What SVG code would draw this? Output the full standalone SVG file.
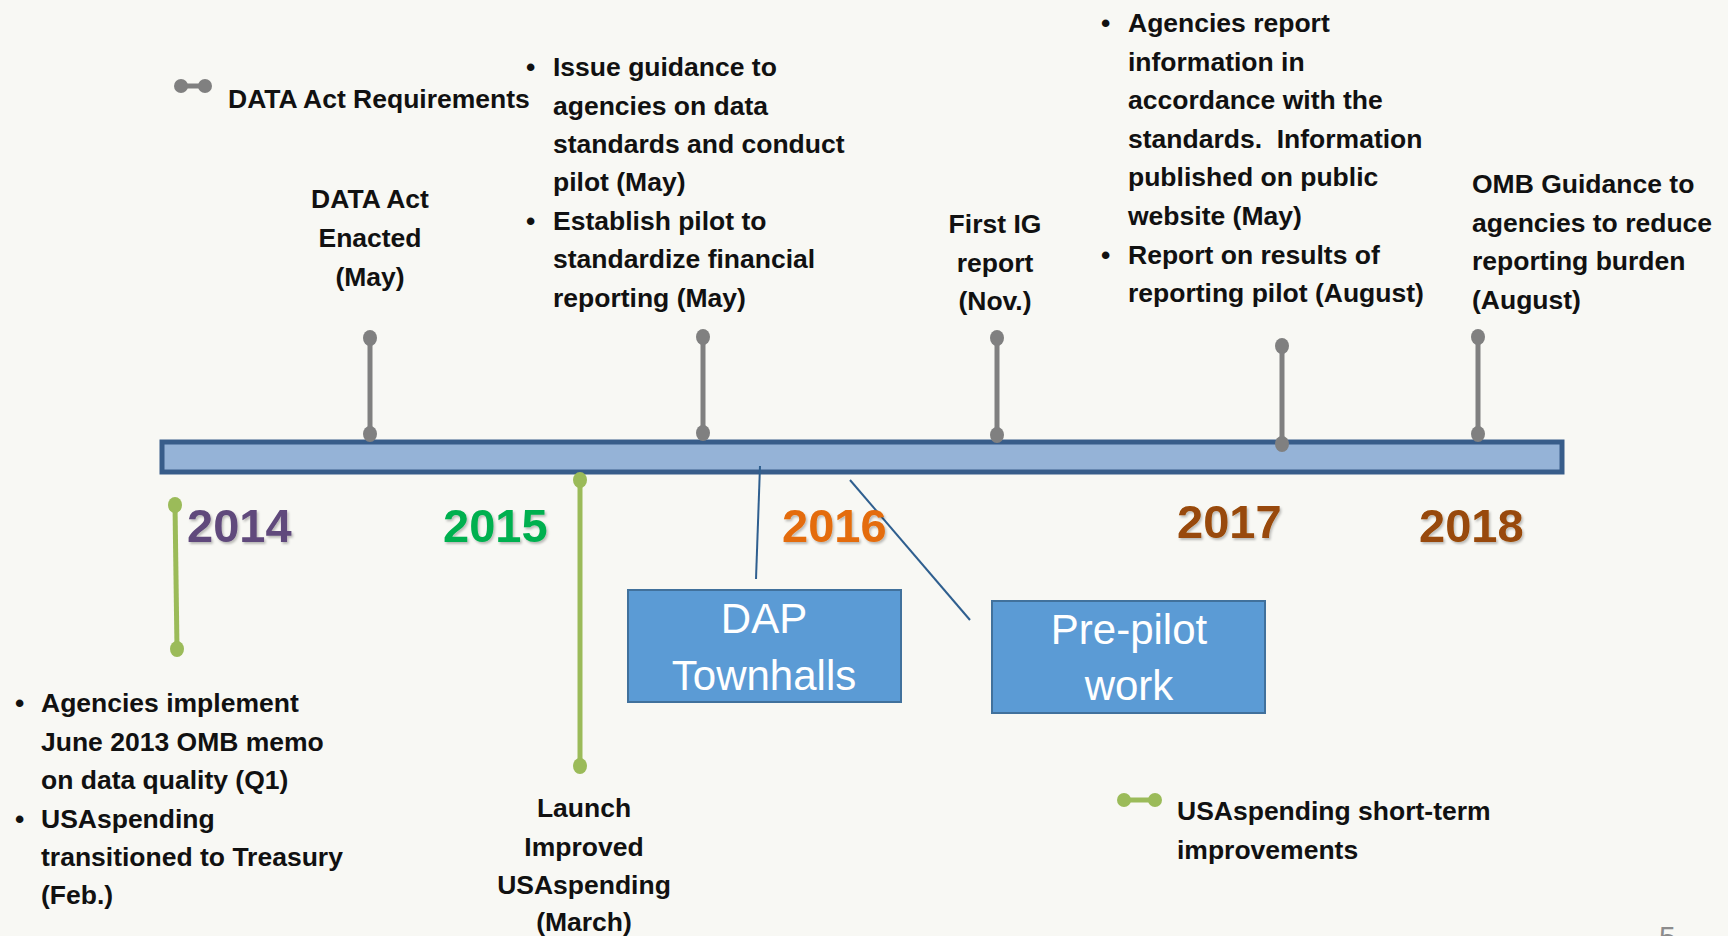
<svg xmlns="http://www.w3.org/2000/svg" width="1728" height="936" viewBox="0 0 1728 936">
<defs>
<style>
.t{font-family:"Liberation Sans",Arial,sans-serif;font-weight:bold;font-size:26.5px;fill:#111}
.c{text-anchor:middle}
.yr{font-family:"Liberation Sans",Arial,sans-serif;font-weight:bold;font-size:47px}
.bx{fill:#5B9BD5;stroke:#41719C;stroke-width:2}
.bt{font-family:"Liberation Sans",Arial,sans-serif;font-size:42px;fill:#fff;text-anchor:middle}
.gp line{stroke:#808080;stroke-width:5}
.gp ellipse{fill:#808080}
.gr line{stroke:#9BBB59;stroke-width:5}
.gr ellipse{fill:#9BBB59}
.cn{stroke:#2F5F8F;stroke-width:2;fill:none}
</style>
<filter id="sh" x="-10%" y="-10%" width="130%" height="130%">
<feDropShadow dx="1.5" dy="2" stdDeviation="1" flood-color="#000" flood-opacity="0.25"/>
</filter>
</defs>
<rect width="1728" height="936" fill="#F8F8F4"/>

<g id="timeline-bar">
<rect x="162" y="442" width="1400" height="30" fill="#95B3D7" stroke="#385D8A" stroke-width="5"/>
</g>

<g id="connectors">
<line class="cn" x1="760" y1="466" x2="756" y2="579"/>
<line class="cn" x1="850" y1="480" x2="970" y2="620"/>
</g>

<g id="legend-requirements">
<g class="gp"><line x1="181" y1="86" x2="205" y2="86"/><ellipse cx="181" cy="86" rx="7" ry="7"/><ellipse cx="205" cy="86" rx="7" ry="7"/></g>
<text class="t" x="228" y="108">DATA Act Requirements</text>
</g>

<g id="pin-enacted" class="gp">
<line x1="370" y1="338" x2="370" y2="434"/><ellipse cx="370" cy="338" rx="7" ry="8"/><ellipse cx="370" cy="434" rx="7" ry="8"/>
</g>
<g id="label-enacted" transform="translate(0,-2)">
<text class="t c" x="370" y="210">DATA Act</text>
<text class="t c" x="370" y="249">Enacted</text>
<text class="t c" x="370" y="288">(May)</text>
</g>

<g id="pin-guidance" class="gp">
<line x1="703" y1="337" x2="703" y2="433"/><ellipse cx="703" cy="337" rx="7" ry="8"/><ellipse cx="703" cy="433" rx="7" ry="8"/>
</g>
<g id="label-guidance" transform="translate(0,-1)">
<text class="t" x="526" y="77">•</text>
<text class="t" x="553" y="77">Issue guidance to</text>
<text class="t" x="553" y="116">agencies on data</text>
<text class="t" x="553" y="154">standards and conduct</text>
<text class="t" x="553" y="192">pilot (May)</text>
<text class="t" x="526" y="231">•</text>
<text class="t" x="553" y="231">Establish pilot to</text>
<text class="t" x="553" y="269">standardize financial</text>
<text class="t" x="553" y="308">reporting (May)</text>
</g>

<g id="pin-ig" class="gp">
<line x1="997" y1="338" x2="997" y2="435"/><ellipse cx="997" cy="338" rx="7" ry="8"/><ellipse cx="997" cy="435" rx="7" ry="8"/>
</g>
<g id="label-ig" transform="translate(0,-2)">
<text class="t c" x="995" y="235">First IG</text>
<text class="t c" x="995" y="274">report</text>
<text class="t c" x="995" y="312">(Nov.)</text>
</g>

<g id="pin-report" class="gp">
<line x1="1282" y1="346" x2="1282" y2="444"/><ellipse cx="1282" cy="346" rx="7" ry="8"/><ellipse cx="1282" cy="444" rx="7" ry="8"/>
</g>
<g id="label-report" transform="translate(0,-2)">
<text class="t" x="1101" y="34">•</text>
<text class="t" x="1128" y="34">Agencies report</text>
<text class="t" x="1128" y="73">information in</text>
<text class="t" x="1128" y="111">accordance with the</text>
<text class="t" x="1128" y="150" xml:space="preserve">standards.  Information</text>
<text class="t" x="1128" y="188">published on public</text>
<text class="t" x="1128" y="227">website (May)</text>
<text class="t" x="1101" y="266">•</text>
<text class="t" x="1128" y="266">Report on results of</text>
<text class="t" x="1128" y="304">reporting pilot (August)</text>
</g>

<g id="pin-omb" class="gp">
<line x1="1478" y1="337" x2="1478" y2="434"/><ellipse cx="1478" cy="337" rx="7" ry="8"/><ellipse cx="1478" cy="434" rx="7" ry="8"/>
</g>
<g id="label-omb" transform="translate(0,-2)">
<text class="t" x="1472" y="195">OMB Guidance to</text>
<text class="t" x="1472" y="234">agencies to reduce</text>
<text class="t" x="1472" y="272">reporting burden</text>
<text class="t" x="1472" y="311">(August)</text>
</g>

<g id="pin-agencies" class="gr">
<line x1="175" y1="505" x2="177" y2="649"/><ellipse cx="175" cy="505" rx="7" ry="8"/><ellipse cx="177" cy="649" rx="7" ry="8"/>
</g>
<g id="label-agencies" transform="translate(0,-2)">
<text class="t" x="15" y="714">•</text>
<text class="t" x="41" y="714">Agencies implement</text>
<text class="t" x="41" y="753">June 2013 OMB memo</text>
<text class="t" x="41" y="791">on data quality (Q1)</text>
<text class="t" x="15" y="830">•</text>
<text class="t" x="41" y="830">USAspending</text>
<text class="t" x="41" y="868">transitioned to Treasury</text>
<text class="t" x="41" y="906">(Feb.)</text>
</g>

<g id="pin-launch" class="gr">
<line x1="580" y1="480" x2="580" y2="766"/><ellipse cx="580" cy="480" rx="7" ry="8"/><ellipse cx="580" cy="766" rx="7" ry="8"/>
</g>
<g id="label-launch" transform="translate(0,-2)">
<text class="t c" x="584" y="819">Launch</text>
<text class="t c" x="584" y="858">Improved</text>
<text class="t c" x="584" y="896">USAspending</text>
<text class="t c" x="584" y="933">(March)</text>
</g>

<g id="years" filter="url(#sh)">
<text class="yr" x="187" y="542" fill="#604A7B">2014</text>
<text class="yr" x="443" y="542" fill="#00B050">2015</text>
<text class="yr" x="782" y="542" fill="#E46C0A">2016</text>
<text class="yr" x="1177" y="538" fill="#984807">2017</text>
<text class="yr" x="1419" y="542" fill="#984807">2018</text>
</g>

<g id="box-dap">
<rect class="bx" x="628" y="590" width="273" height="112"/>
<text class="bt" x="764" y="633">DAP</text>
<text class="bt" x="764" y="690">Townhalls</text>
</g>

<g id="box-prepilot">
<rect class="bx" x="992" y="601" width="273" height="112"/>
<text class="bt" x="1129" y="644">Pre-pilot</text>
<text class="bt" x="1129" y="700">work</text>
</g>

<g id="legend-usaspending">
<g class="gr"><line x1="1124" y1="800" x2="1155" y2="800"/><ellipse cx="1124" cy="800" rx="7" ry="7"/><ellipse cx="1155" cy="800" rx="7" ry="7"/></g>
<text class="t" x="1177" y="820">USAspending short-term</text>
<text class="t" x="1177" y="859">improvements</text>
</g>

<text x="1659" y="947" font-family="Liberation Sans,Arial,sans-serif" font-size="30" fill="#8C8C8C">5</text>
</svg>
